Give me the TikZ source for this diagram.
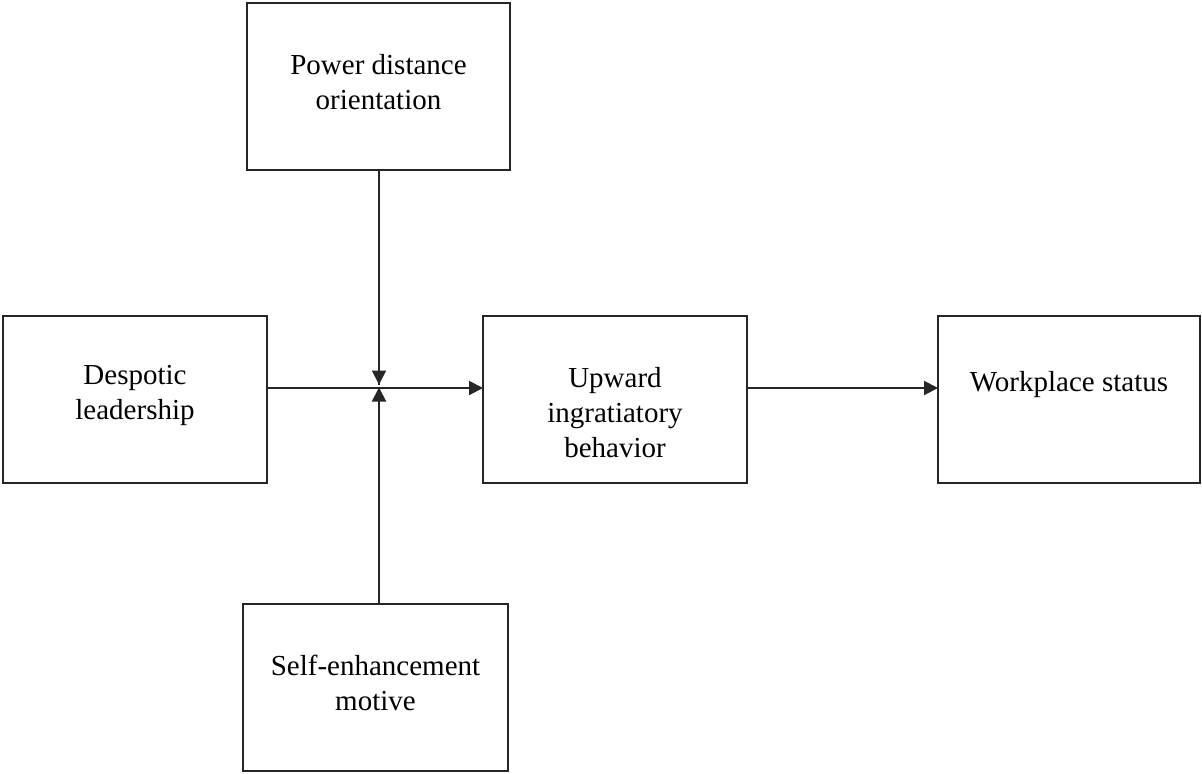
\documentclass[tikz,border=0pt]{standalone}
\usepackage{fontspec}
\setmainfont{Liberation Serif}
\usetikzlibrary{arrows.meta,calc}
\begin{document}
\begin{tikzpicture}[x=0.5pt,y=-0.5pt,
  box/.style={draw=black!85, line width=1pt, inner sep=0pt, outer sep=0pt, minimum height=83.5pt},
  lbl/.style={anchor=north, inner sep=0pt, align=center, font={\fontsize{14.5}{17.5}\selectfont}},
  conn/.style={line width=1pt, draw=black!85},
  tip/.style={-{Triangle[length=7pt,width=7pt]}}]
\useasboundingbox (0,0) rectangle (1202,773);
\node[box, minimum width=131.5pt] (pd) at (378.5,86) {};
\node[box, minimum width=132pt] (dl) at (135,399.5) {};
\node[box, minimum width=132pt] (up) at (615,399.5) {};
\node[box, minimum width=131pt] (ws) at (1069,399.5) {};
\node[box, minimum width=132.5pt] (se) at (375.5,687.5) {};
\node[lbl] (pdt) at ($(pd.north)+(0,51)$) {Power distance\\orientation};
\node[lbl] (dlt) at ($(dl.north)+(0,49)$) {Despotic\\leadership};
\node[lbl] (upt) at ($(up.north)+(0,51)$) {Upward\\ingratiatory\\behavior};
\node[lbl] (wst) at ($(ws.north)+(0,55)$) {Workplace status};
\node[lbl] (set) at ($(se.north)+(0,51)$) {Self-enhancement\\motive};
\coordinate (j) at ($(pd.south)+(0.5,218)$);
\coordinate (ja) at ($(j)+(0,-3)$);
\coordinate (dlo) at ($(dl.north east)+(0,72)$);
\coordinate (upi) at ($(up.north west)+(0,72)$);
\coordinate (upo) at ($(up.north east)+(0,72)$);
\coordinate (wsi) at ($(ws.north west)+(0,72)$);
\draw[conn] (pd.south -| j) -- (ja);
\draw[conn,tip] ($(j)+(0,-16)$) -- (ja);
\draw[conn] (se.north -| j) -- (j);
\draw[conn,tip] ($(j)+(0,14)$) -- (j);
\draw[conn,tip] (dlo) -- (upi);
\draw[conn,tip] (upo) -- (wsi);
\end{tikzpicture}
\end{document}
